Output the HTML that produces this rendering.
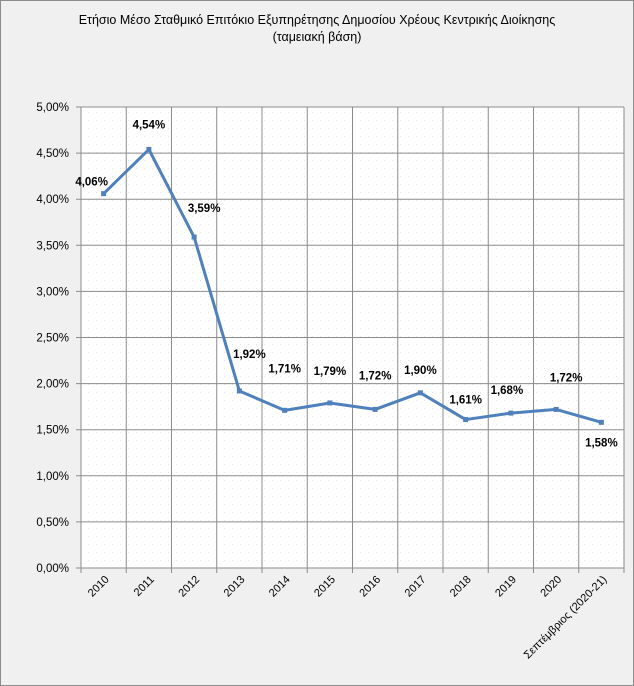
<!DOCTYPE html>
<html><head><meta charset="utf-8"><style>
body{margin:0;background:#f0f0f0;}
svg{display:block;font-family:"Liberation Sans","DejaVu Sans",sans-serif;}
</style></head><body>
<svg id="c" width="634" height="686">
<defs><pattern id="dots" width="8" height="8" patternUnits="userSpaceOnUse"><rect width="1" height="1" fill="#e4e4e4"/></pattern></defs>
<rect x="0.5" y="0.5" width="633" height="685" fill="#f0f0f0" stroke="#8c8c8c"/>
<text x="317" y="24" font-size="12.5" text-anchor="middle" fill="#000">Ετήσιο Μέσο Σταθμικό Επιτόκιο  Εξυπηρέτησης Δημοσίου Χρέους Κεντρικής Διοίκησης</text>
<text x="317" y="41" font-size="12.5" text-anchor="middle" fill="#000">(ταμειακή βάση)</text>
<g id="g"></g>
</svg>
<script>
const categories=["2010","2011","2012","2013","2014","2015","2016","2017","2018","2019","2020","Σεπτέμβριος (2020-21)"];
const values=[4.06,4.54,3.59,1.92,1.71,1.79,1.72,1.90,1.61,1.68,1.72,1.58];
const yTicks=[0,0.5,1,1.5,2,2.5,3,3.5,4,4.5,5];
const L=81,R=624,T=107,B=568,yMax=5;
const bw=(R-L)/categories.length;
const x=i=>L+bw*(i+0.5);
const y=v=>B-(v/yMax)*(B-T);
const g=document.getElementById('g');
const NS="http://www.w3.org/2000/svg";
function mk(t,a,p){const e=document.createElementNS(NS,t);for(const k in a)e.setAttribute(k,a[k]);(p||g).appendChild(e);return e;}
const fmt=v=>v.toFixed(2).replace('.',',')+'%';
let e=mk('rect',{x:L,y:T,width:R-L,height:B-T,fill:'#fff'});


mk('rect',{x:L,y:T,width:R-L,height:B-T,fill:'url(#dots)'});
yTicks.forEach(v=>{
 const l=mk('line',{x1:L-5,x2:R,y1:y(v),y2:y(v),stroke:'#8c8c8c','stroke-width':1});
 
 
 const t=mk('text',{x:L-12,y:y(v)+4,'font-size':11.5,'text-anchor':'end',fill:'#000'});
 t.textContent=fmt(v);
 
 
});
for(let i=0;i<=categories.length;i++){
 const l=mk('line',{x1:L+bw*i,x2:L+bw*i,y1:T,y2:B+5,stroke:'#8c8c8c','stroke-width':1});
 
 
}
categories.forEach((c,i)=>{
 const cx=x(i)+6,cy=B+12;
 const t=mk('text',{x:cx,y:cy,'font-size':11,'text-anchor':'end',fill:'#000',transform:`rotate(-45 ${cx} ${cy})`});
 t.textContent=c;
 
 
});
const p=mk('polyline',{points:values.map((v,i)=>x(i)+','+y(v)).join(' '),fill:'none',stroke:'#4f81bd','stroke-width':3,'stroke-linejoin':'round'});


const off=[[-12,-8],[0,-21],[10,-25],[10,-33],[0,-38],[0,-28],[0,-30],[0,-19],[0,-16],[-4,-19],[10,-28],[0,24]];
values.forEach((v,i)=>{
 const m=mk('rect',{x:x(i)-2.5,y:y(v)-2.5,width:5,height:5,fill:'#4f81bd'});
 
 
 const t=mk('text',{x:x(i)+off[i][0],y:y(v)+off[i][1],'font-size':11.5,'font-weight':'bold','text-anchor':'middle',fill:'#000'});
 t.textContent=fmt(v);
 
 
});
</script>
</body></html>
